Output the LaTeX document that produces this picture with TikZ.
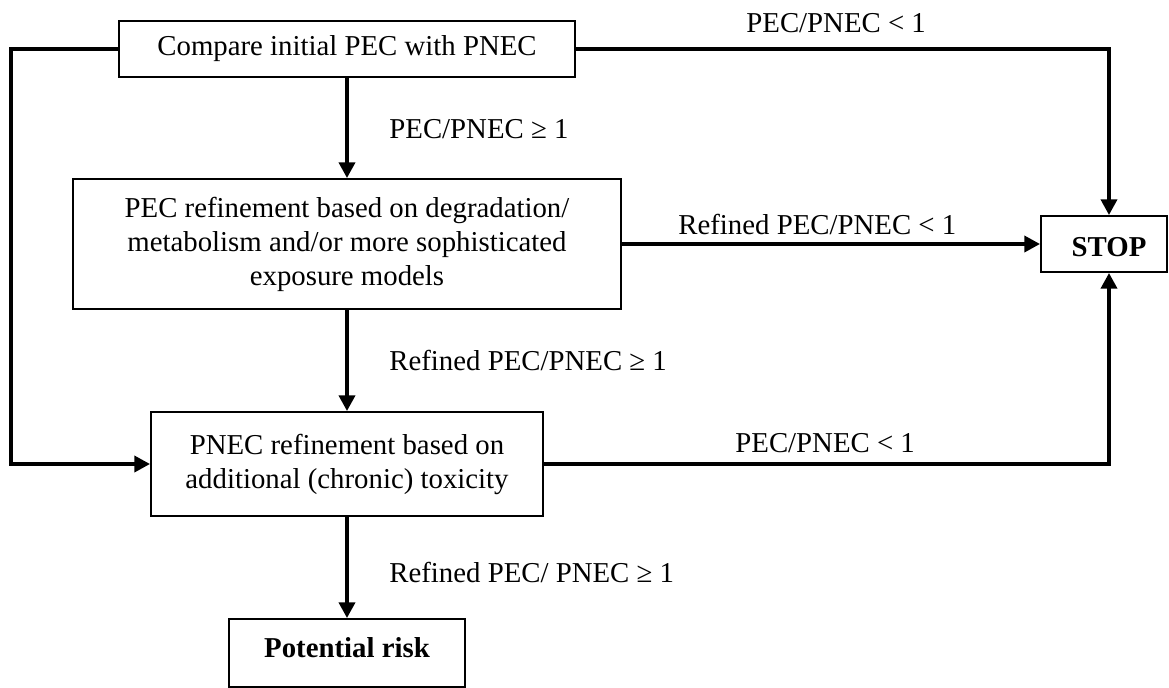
\documentclass[tikz,border=0pt]{standalone}
\usepackage{fontspec}
\setmainfont{Liberation Serif}
\usetikzlibrary{arrows.meta}
\begin{document}
\begin{tikzpicture}[x=0.5pt,y=-0.5pt,
  box/.style={draw, line width=1pt, align=center, inner sep=0pt,
    font=\fontsize{14.4}{17}\selectfont},
  flow/.style={line width=1.75pt, -{Triangle[length=7.8pt,width=8pt]}},
  lab/.style={anchor=base west, inner sep=0pt, font=\fontsize{14.4}{17}\selectfont},
  boldtxt/.style={anchor=base, inner sep=0pt, font=\fontsize{14.4}{17}\selectfont\bfseries}]
\clip (0,0) rectangle (1169,687);

% process boxes
\node[box, minimum width=228pt, minimum height=28pt] (cmp) at (347,49)
  {Compare initial PEC with PNEC};
\node[box, minimum width=274pt, minimum height=65pt] (pec) at (347,244)
  {PEC refinement based on degradation/\\metabolism and/or more sophisticated\\exposure models};
\node[box, minimum width=196pt, minimum height=52pt] (pnec) at (347,464)
  {PNEC refinement based on\\additional (chronic) toxicity};
\node[box, minimum width=63pt, minimum height=28pt] (stop) at (1104,244) {};
\node[boldtxt] (stoptxt) at (1109,256) {STOP};
\node[box, anchor=north, minimum width=118pt, minimum height=34pt] (risk) at (347,618) {};
\node[boldtxt] (risktxt) at (347,657) {Potential risk};

% entry points on the STOP box, in line with its label
\coordinate (stopN) at ([xshift=2.5pt]stop.north);
\coordinate (stopS) at ([xshift=2.5pt]stop.south);
\coordinate (lt) at (11,49);

% connectors
\draw[flow] (cmp.south) -- (pec.north);
\draw[flow] (pec.south) -- (pnec.north);
\draw[flow] (pnec.south) -- (risk.north);
\draw[flow] (cmp.east) -| (stopN);
\draw[flow] (pec.east) -- (stop.west);
\draw[flow] (pnec.east) -| (stopS);
\draw[flow] (cmp.west) -- (lt) |- (pnec.west);

% decision labels
\node[lab] (l1) at (389,138) {PEC/PNEC ≥ 1};
\node[lab] (l2) at (746,32) {PEC/PNEC < 1};
\node[lab] (l3) at (678,234) {Refined PEC/PNEC < 1};
\node[lab] (l4) at (389,370) {Refined PEC/PNEC ≥ 1};
\node[lab] (l5) at (735,452) {PEC/PNEC < 1};
\node[lab] (l6) at (389,582) {Refined PEC/ PNEC ≥ 1};
\end{tikzpicture}
\end{document}
